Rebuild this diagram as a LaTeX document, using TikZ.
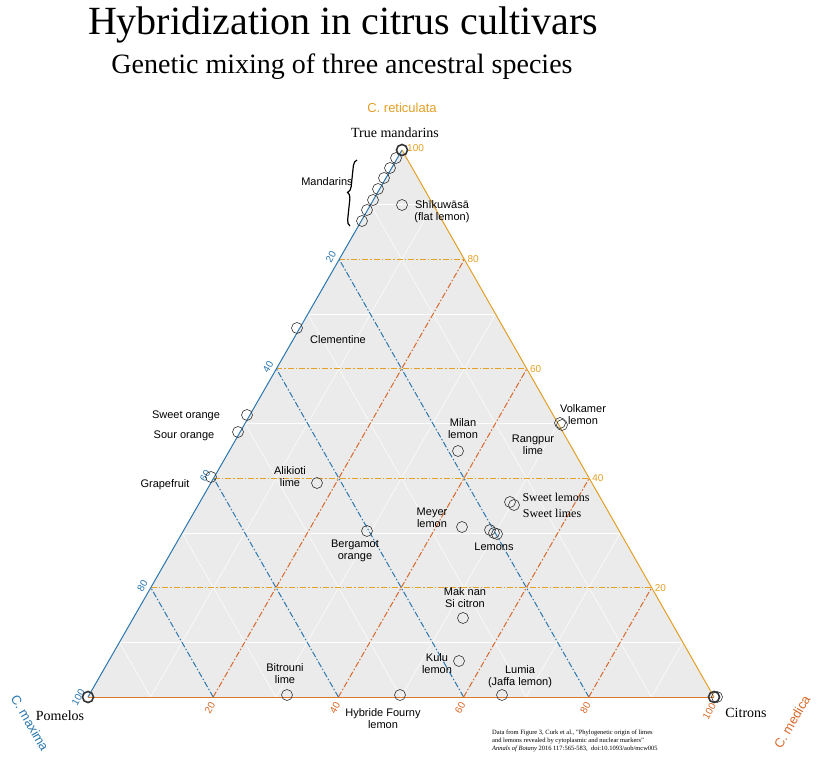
\documentclass[tikz,border=0pt]{standalone}
\usepackage{fontspec}
\setmainfont{Liberation Serif}
\newfontfamily\labelfont{Liberation Sans}
\usetikzlibrary{calc,decorations.pathreplacing}
\definecolor{retic}{HTML}{E3A024}
\definecolor{medic}{HTML}{D8692A}
\definecolor{maxim}{HTML}{2B77AE}
\definecolor{panel}{HTML}{EBEBEB}
\tikzset{
  pt/.style={circle, draw=black!80, minimum size=11pt, inner sep=0pt, line width=0.6pt},
  ptbold/.style={pt, line width=1.6pt},
  lab/.style={font=\labelfont\fontsize{11}{12}\selectfont, align=center, inner sep=1pt},
  ticklab/.style={font=\labelfont\fontsize{10}{11}\selectfont, inner sep=1pt},
  gridline/.style={dash pattern=on 6pt off 2pt on 1.5pt off 2pt, line width=1pt},
}
\begin{document}
\begin{tikzpicture}[x=1pt,y=-1pt]
\useasboundingbox (0,0) rectangle (822,776);
% Titles
\node[font=\fontsize{40}{44}\selectfont] (title) at (343,25) {Hybridization in citrus cultivars};
\node[font=\fontsize{28}{32}\selectfont] (subtitle) at (342,67) {Genetic mixing of three ancestral species};

% Triangle
\coordinate (T) at (402,150);
\coordinate (L) at (88,697);
\coordinate (R) at (714,697);
\fill[panel] (T) -- (L) -- (R) -- cycle;

% Minor grid
\foreach \f in {0.1,0.3,0.5,0.7,0.9} {
  \draw[white, line width=0.5pt] ($(L)!\f!(T)$) -- ($(R)!\f!(T)$);
  \draw[white, line width=0.5pt] ($(L)!\f!(R)$) -- ($(T)!\f!(R)$);
  \draw[white, line width=0.5pt] ($(R)!\f!(L)$) -- ($(T)!\f!(L)$);
}

% Major grid and ticks
\foreach \f/\v in {0.2/20,0.4/40,0.6/60,0.8/80} {
  \draw[gridline, maxim] ($(R)!\f!(L)$) -- ($(T)!\f!(L)$);
  \draw[gridline, medic] ($(L)!\f!(R)$) -- ($(T)!\f!(R)$);
  \draw[gridline, retic] ($(L)!\f!(T)$) -- ($(R)!\f!(T)$);
  \node[ticklab, retic, anchor=west] at ($(R)!\f!(T)+(2,0)$) {\v};
  \node[ticklab, medic, rotate=60, anchor=east] at ($(L)!\f!(R)+(0,5)$) {\v};
  \node[ticklab, maxim, rotate=60, anchor=east] at ($(T)!\f!(L)+(-5,-8)$) {\v};
}
\node[ticklab, retic, anchor=west] at ($(T)+(4,-2)$) {100};
\node[ticklab, medic, rotate=60, anchor=east] at ($(R)+(0,6)$) {100};
\node[ticklab, maxim, rotate=60, anchor=east] at ($(L)+(-5,-8)$) {100};

% Edges
\draw[maxim, line width=1pt] (L) -- (T);
\draw[retic, line width=1pt] (T) -- (R);
\draw[medic!70!retic, line width=1pt] (R) -- (L);

% Axis titles
\node[retic, font=\labelfont\fontsize{13}{14}\selectfont] (ret) at (402,108) {C. reticulata};
\node[maxim, font=\labelfont\fontsize{13}{14}\selectfont, rotate=-60] (max) at (30,723) {C. maxima};
\node[medic, font=\labelfont\fontsize{13}{14}\selectfont, rotate=60] (med) at (792,722) {C. medica};

% Cultivars
\node[ptbold] (truemand) at (402,150) {};
\foreach \x/\y [count=\i] in {396/158,390/168,384/178,378/189,373/200,367/210,362/221}
  \node[pt] (mand\i) at (\x,\y) {};
\node[pt] (shiku) at (402,205) {};
\node[pt] (clem) at (297,328) {};
\node[pt] (sweetor) at (247,415) {};
\node[pt] (souror) at (238,432) {};
\node[pt] (grapef) at (211,477) {};
\node[pt] (alik) at (317,483) {};
\node[pt] (berg) at (367,531) {};
\node[pt] (milan) at (458,451) {};
\node[pt] (volk1) at (560,423) {};
\node[pt] (volk2) at (562,425) {};
\node[pt] (swlem) at (510,502) {};
\node[pt] (swlim) at (514,505) {};
\node[pt] (meyer) at (462,527) {};
\node[pt] (lem1) at (490,530) {};
\node[pt] (lem2) at (494,533) {};
\node[pt] (lem3) at (497,534) {};
\node[pt] (maknan) at (463,618) {};
\node[pt] (kulu) at (459,661) {};
\node[pt] (bitr) at (287,695) {};
\node[pt] (fourny) at (400,695) {};
\node[pt] (lumia) at (502,695) {};
\node[ptbold] (pomelo) at (88,697) {};
\node[ptbold] (citron) at (714,697) {};
\node[pt] (citron2) at (717,697) {};

% Labels
\node[lab, font=\fontsize{14}{15}\selectfont] at (395,133) {True mandarins};
\node[lab] at (327,182) {Mandarins};
\draw[line width=1.2pt, decorate, decoration={brace, amplitude=6pt}] (350,226) -- (357,160);
\node[lab] at (442,212) {Shīkuwāsā\\(flat lemon)};
\node[lab] at (338,340) {Clementine};
\node[lab] at (186,416) {Sweet orange};
\node[lab] at (184,436) {Sour orange};
\node[lab] at (165,485) {Grapefruit};
\node[lab] at (290,477) {Alikioti\\lime};
\node[lab] at (463,429) {Milan\\lemon};
\node[lab] at (583,415) {Volkamer\\lemon};
\node[lab] at (533,445) {Rangpur\\lime};
\node[lab, font=\fontsize{12}{13}\selectfont] at (556,497) {Sweet lemons};
\node[lab, font=\fontsize{12}{13}\selectfont] at (552,513) {Sweet limes};
\node[lab] at (432,518) {Meyer\\lemon};
\node[lab] at (494,547) {Lemons};
\node[lab] at (355,551) {Bergamot\\orange};
\node[lab] at (465,598) {Mak nan\\Si citron};
\node[lab] at (437,664) {Kulu\\lemon};
\node[lab] at (520,677) {Lumia\\(Jaffa lemon)};
\node[lab] at (285,674) {Bitrouni\\lime};
\node[lab] at (383,719) {Hybride Fourny\\lemon};
\node[lab, font=\fontsize{14}{15}\selectfont] at (60,716) {Pomelos};
\node[lab, font=\fontsize{14}{15}\selectfont] at (746,713) {Citrons};

% Source note
\node[anchor=north west, align=left, inner sep=0pt, font=\fontsize{6.5}{8}\selectfont] (note) at (492,730)
  {Data from Figure 3, Curk et al., "Phylogenetic origin of limes\\
   and lemons revealed by cytoplasmic and nuclear markers"\\
   \textit{Annals of Botany} 2016 117:565-583,\ \ doi:10.1093/aob/mcw005};
\end{tikzpicture}
\end{document}
